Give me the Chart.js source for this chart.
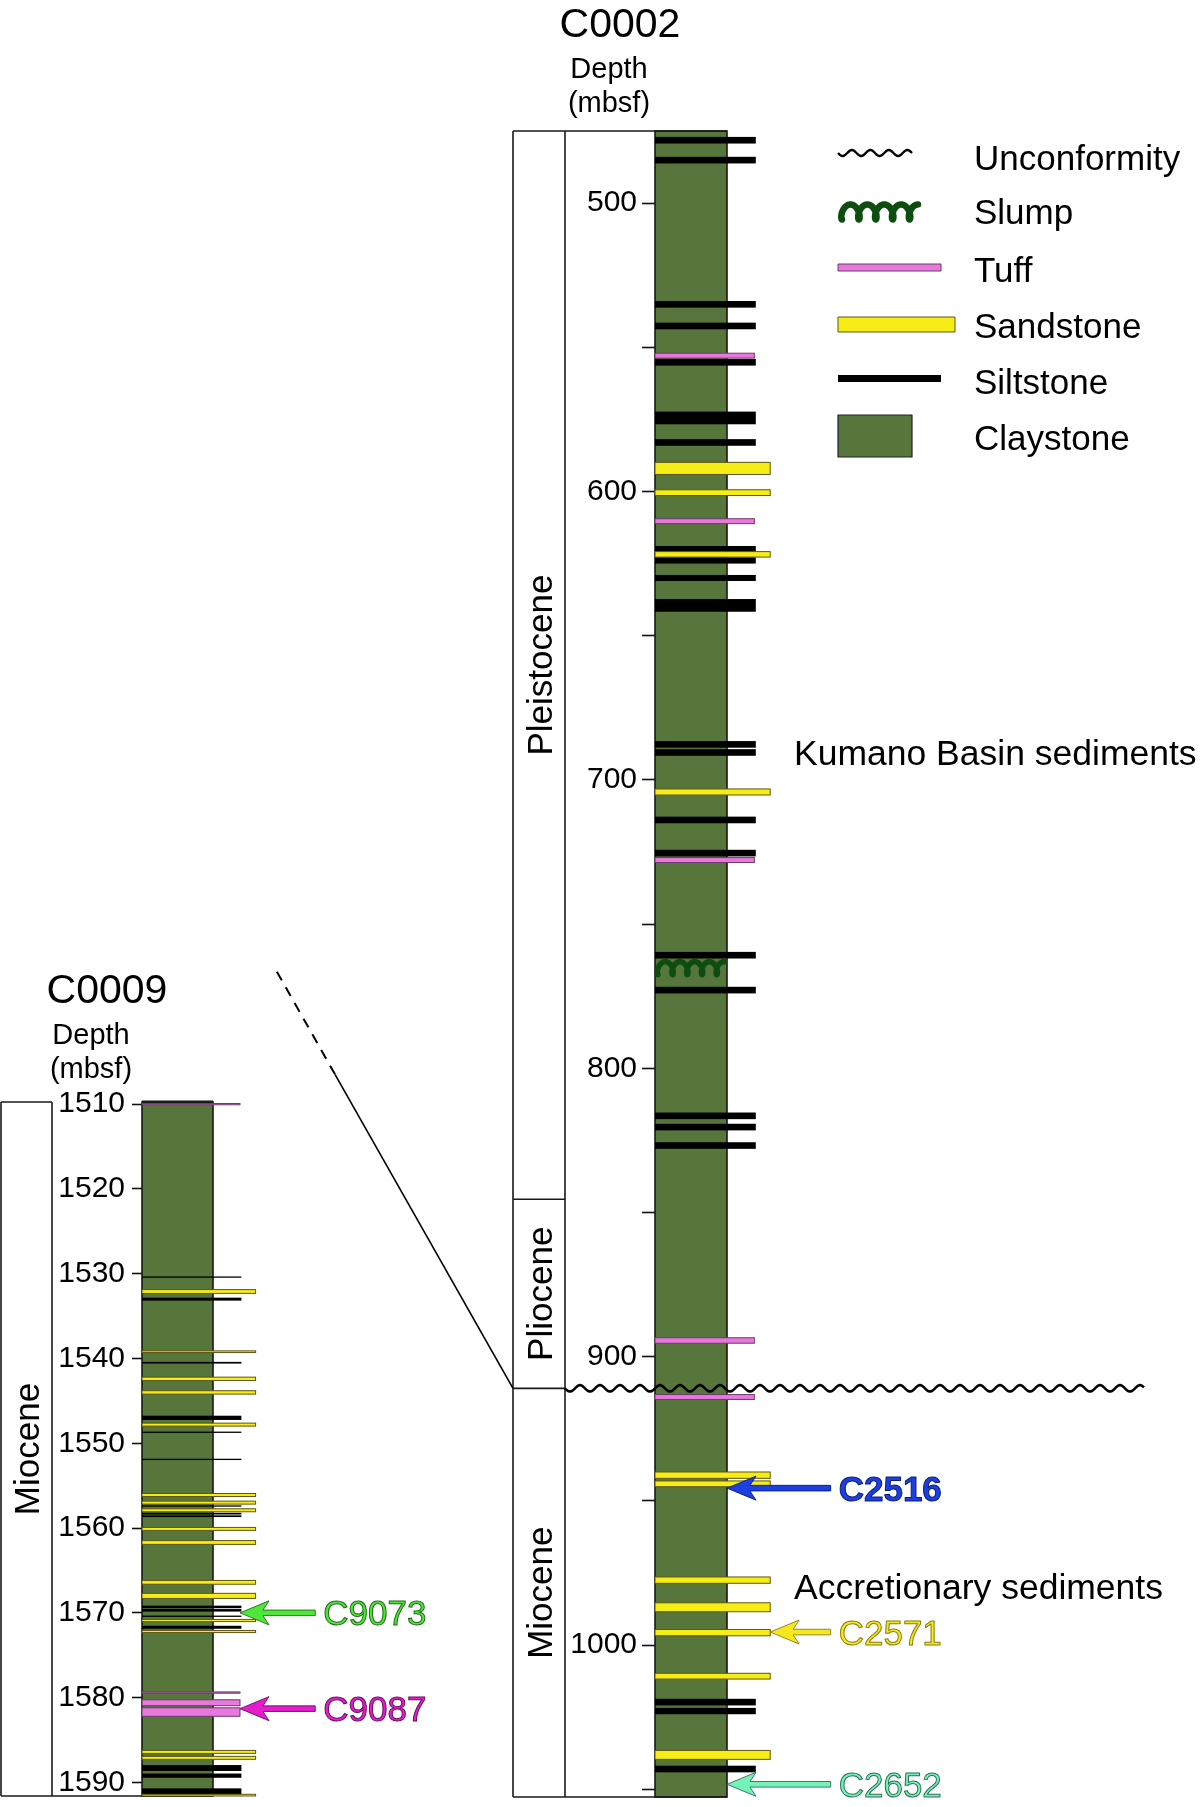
<!DOCTYPE html>
<html><head><meta charset="utf-8">
<script src="https://cdn.jsdelivr.net/npm/chart.js@4.4.1/dist/chart.umd.min.js"></script>
<style>
html,body{margin:0;padding:0;background:#fff;}
#wrap{position:relative;width:1200px;height:1807px;background:#fff;}
canvas{position:absolute;left:0;top:0;}
</style></head><body>
<div id="wrap"><canvas id="cA" width="1200" height="1807"></canvas><canvas id="cB" width="1200" height="1807"></canvas></div>
<script>
// ---------------- DATA: Site C0002 ----------------
const c0002Range = [475, 1052.7];
const c0002SiltDepth = [478.2, 485.1, 535.1, 542.6, 555.2, 574.5, 583.0, 619.9, 623.9, 630.0, 639.5, 687.7, 690.5, 713.9, 725.4, 760.8, 772.9, 816.5, 820.4, 826.8, 1019.8, 1022.9, 1043.0];
const c0002SiltThick = [2.3, 2.3, 2.3, 2.3, 2.3, 4.4, 2.3, 2.0, 2.2, 2.1, 4.4, 2.3, 2.3, 2.3, 2.3, 2.3, 2.3, 2.3, 2.3, 2.3, 2.3, 2.2, 2.3];
const c0002SandDepth = [592.0, 600.4, 621.8, 704.2, 941.1, 944.1, 977.5, 986.9, 995.7, 1010.8, 1038.1];
const c0002SandThick = [4.2, 2.0, 1.9, 2.1, 2.2, 2.0, 2.2, 3.1, 2.2, 2.0, 3.1];
const c0002TuffDepth = [552.9, 610.3, 727.8, 894.4, 914.0];
const c0002TuffThick = [1.7, 1.7, 1.7, 1.9, 1.7];
const c0002SlumpDepth = [765.3];
const c0002UnconformityDepth = [911.0];
const c0002EpochNames = ['Pleistocene', 'Pliocene', 'Miocene'];
const c0002EpochTop = [475, 845.4, 911.0];
const c0002EpochBottom = [845.4, 911.0, 1052.7];
const c0002SampleNames = ['C2516', 'C2571', 'C2652'];
const c0002SampleDepth = [945.6, 995.5, 1048.3];
const c0002UnitNames = ['Kumano Basin sediments', 'Accretionary sediments'];
const c0002UnitDepth = [690.6, 979.8];

// ---------------- DATA: Site C0009 ----------------
const c0009Range = [1509.75, 1591.6];
const c0009SiltDepth = [1530.4, 1533.0, 1540.5, 1547.0, 1548.7, 1551.9, 1557.4, 1558.3, 1558.6, 1569.3, 1569.7, 1570.4, 1571.7, 1588.3, 1589.2, 1591.1];
const c0009SiltThick = [0.15, 0.35, 0.2, 0.5, 0.12, 0.12, 0.12, 0.2, 0.2, 0.3, 0.3, 0.12, 0.35, 0.7, 0.5, 0.8];
const c0009SandDepth = [1532.1, 1539.2, 1542.4, 1544.0, 1547.8, 1556.1, 1557.0, 1557.9, 1560.1, 1561.7, 1566.4, 1568.0, 1570.9, 1572.2, 1586.4, 1587.1, 1591.5];
const c0009SandThick = [0.45, 0.2, 0.4, 0.4, 0.35, 0.35, 0.35, 0.35, 0.35, 0.45, 0.45, 0.6, 0.25, 0.25, 0.35, 0.35, 0.2];
const c0009TuffDepth = [1510.0, 1579.4, 1580.6, 1581.7];
const c0009TuffThick = [0.15, 0.15, 0.7, 1.0];
const c0009EpochNames = ['Miocene'];
const c0009EpochTop = [1509.75];
const c0009EpochBottom = [1591.6];
const c0009SampleNames = ['C9073', 'C9087'];
const c0009SampleDepth = [1570.0, 1581.3];

const legendLabels = ['Unconformity', 'Slump', 'Tuff', 'Sandstone', 'Siltstone', 'Claystone'];

// ---------------- STYLES ----------------
const FONT = '"Liberation Sans", Arial, Helvetica, sans-serif';
const CLAY = '#56763b';
const LITH = {
  silt: {fill: '#000000', stroke: null, extent: 1.4},
  sand: {fill: '#f6ec16', stroke: '#5e5512', extent: 1.6},
  tuff: {fill: '#e878de', stroke: '#6b3d6b', extent: 1.38}
};
const SAMPLE_STYLE = {
  C2516: {fill: '#1b3fe3', stroke: '#0b1d6e', bold: true, tip: 1.0},
  C2571: {fill: '#f5e81c', stroke: '#8a7c12', bold: false, tip: 1.6},
  C2652: {fill: '#74f2ba', stroke: '#2e6e52', bold: false, tip: 1.0},
  C9073: {fill: '#4ee63a', stroke: '#236a1a', bold: false, tip: 1.38},
  C9087: {fill: '#e51dcd', stroke: '#650c5a', bold: false, tip: 1.38}
};
const ARROW_TAIL = 2.44;

function beds(depths, thick, lith, label) {
  return {label: label, lith: lith, data: depths.map((d, i) => ({x: 0, y: d, t: thick[i]})),
          pointRadius: 0, pointHoverRadius: 0, showLine: false};
}

function wave(ctx, x0, x1, y, amp, wl) {
  ctx.beginPath();
  for (let x = x0; x <= x1; x += 1) {
    const yy = y + amp * Math.sin((x - x0) / wl * 2 * Math.PI);
    if (x === x0) ctx.moveTo(x, yy); else ctx.lineTo(x, yy);
  }
  ctx.stroke();
}
function slump(ctx, x0, x1, y, n, ay) {
  const T = n * 2 * Math.PI + Math.PI;
  const k = (x1 - x0) / T;
  const d = 1.5 * k;
  ctx.beginPath();
  for (let i = 0; i <= 400; i++) {
    const t = T * i / 400;
    const x = x0 + k * t - d * Math.sin(t);
    const yy = y + ay * Math.cos(t);
    if (i === 0) ctx.moveTo(x, yy); else ctx.lineTo(x, yy);
  }
  ctx.stroke();
}
function arrow(ctx, tipX, tailX, y, fill, stroke) {
  ctx.beginPath();
  ctx.moveTo(tipX, y);
  ctx.lineTo(tipX + 29, y - 12);
  ctx.lineTo(tipX + 23, y - 2.8);
  ctx.lineTo(tailX, y - 2.8);
  ctx.lineTo(tailX, y + 2.8);
  ctx.lineTo(tipX + 23, y + 2.8);
  ctx.lineTo(tipX + 29, y + 12);
  ctx.closePath();
  ctx.fillStyle = fill; ctx.fill();
  ctx.lineWidth = 0.9; ctx.strokeStyle = stroke; ctx.stroke();
}
function text(ctx, s, x, y, size, align, opts) {
  opts = opts || {};
  ctx.font = (opts.bold ? 'bold ' : '') + size + 'px ' + FONT;
  ctx.textAlign = align; ctx.textBaseline = 'alphabetic';
  ctx.fillStyle = opts.fill || '#000';
  ctx.fillText(s, x, y);
  if (opts.stroke) { ctx.lineWidth = 1; ctx.strokeStyle = opts.stroke; ctx.strokeText(s, x, y); }
}

function columnPlugin(cfg) {
  return {
    id: 'column' + cfg.name,
    beforeDatasetsDraw(chart) {
      const ctx = chart.ctx, ca = chart.chartArea, ys = chart.scales.y;
      const e0 = ca.left - cfg.epochOffset, e1 = ca.left - 90;
      ctx.save();
      ctx.fillStyle = CLAY;
      ctx.fillRect(ca.left, ca.top, ca.right - ca.left, ca.bottom - ca.top);
      ctx.strokeStyle = '#1a1a1a'; ctx.lineWidth = 1.6;
      ctx.strokeRect(ca.left, ca.top, ca.right - ca.left, ca.bottom - ca.top);
      ctx.beginPath();
      ctx.moveTo(e0, ca.top); ctx.lineTo(cfg.topFull ? ca.right : e1, ca.top);
      ctx.moveTo(e0, ca.bottom); ctx.lineTo(ca.right, ca.bottom);
      ctx.moveTo(e0, ca.top); ctx.lineTo(e0, ca.bottom);
      ctx.moveTo(e1, ca.top); ctx.lineTo(e1, ca.bottom);
      ctx.stroke();
      if (!cfg.topFull) { ctx.lineWidth = 3; ctx.beginPath(); ctx.moveTo(ca.left, ca.top); ctx.lineTo(ca.right, ca.top); ctx.stroke(); ctx.lineWidth = 1.6; }
      cfg.epochNames.forEach((nm, i) => {
        const yt = ys.getPixelForValue(cfg.epochTop[i]);
        const yb = ys.getPixelForValue(cfg.epochBottom[i]);
        if (i > 0) { ctx.beginPath(); ctx.moveTo(e0, yt); ctx.lineTo(e1, yt); ctx.stroke(); }
        ctx.save();
        ctx.translate((e0 + e1) / 2 + 12.5, (yt + yb) / 2);
        ctx.rotate(-Math.PI / 2);
        text(ctx, nm, 0, 0, 35, 'center');
        ctx.restore();
      });
      ctx.restore();
    },
    afterDatasetsDraw(chart) {
      const ctx = chart.ctx, ca = chart.chartArea, ys = chart.scales.y, xs = chart.scales.x;
      ctx.save();
      chart.data.datasets.forEach(ds => {
        const st = LITH[ds.lith];
        const x0 = xs.getPixelForValue(0), x1 = xs.getPixelForValue(st.extent);
        ds.data.forEach(p => {
          let y0 = ys.getPixelForValue(p.y - p.t / 2), y1 = ys.getPixelForValue(p.y + p.t / 2);
          let h = Math.max(y1 - y0, 1.3);
          if (y1 - y0 < 1.3) y0 = (y0 + y1) / 2 - 0.65;
          ctx.fillStyle = st.fill;
          ctx.fillRect(x0, y0, x1 - x0, h);
          if (st.stroke) { ctx.strokeStyle = st.stroke; ctx.lineWidth = 1; ctx.strokeRect(x0, y0, x1 - x0, h); }
        });
      });
      (cfg.slump || []).forEach(d => {
        ctx.strokeStyle = '#0d4d10'; ctx.lineWidth = 5.5; ctx.lineCap = 'round'; ctx.lineJoin = 'round';
        slump(ctx, xs.getPixelForValue(0.04), xs.getPixelForValue(0.96), ys.getPixelForValue(d), 4, 6.5);
      });
      (cfg.unconf || []).forEach(d => {
        ctx.strokeStyle = '#000'; ctx.lineWidth = 2.6; ctx.lineCap = 'butt';
        wave(ctx, xs.getPixelForValue(-1.25), xs.getPixelForValue(6.8), ys.getPixelForValue(d), 3.2, 20);
      });
      cfg.sampleNames.forEach((nm, i) => {
        const s = SAMPLE_STYLE[nm];
        const y = ys.getPixelForValue(cfg.sampleDepth[i]);
        const tailX = xs.getPixelForValue(ARROW_TAIL);
        arrow(ctx, xs.getPixelForValue(s.tip), tailX, y, s.fill, s.stroke);
        text(ctx, nm, tailX + 8, y + 12.5, 35, 'left', {fill: s.fill, stroke: s.stroke, bold: s.bold});
      });
      (cfg.unitNames || []).forEach((nm, i) => {
        text(ctx, nm, ca.right + 67, ys.getPixelForValue(cfg.unitDepth[i]) + 12.5, 35.5, 'left');
      });
      text(ctx, cfg.name, cfg.titleX, cfg.titleY, 41, 'center');
      text(ctx, 'Depth', cfg.subX, cfg.titleY + 41, 29, 'center');
      text(ctx, '(mbsf)', cfg.subX, cfg.titleY + 75, 29, 'center');
      if (cfg.extra) cfg.extra(chart, ctx);
      ctx.restore();
    }
  };
}

function drawLegendAndConnector(chart, ctx) {
  const ca = chart.chartArea, ys = chart.scales.y;
  const ex = ca.left - 142, ey = ys.getPixelForValue(c0002UnconformityDepth[0]);
  const mx = ex - 178, my = ey - 314;
  ctx.strokeStyle = '#000'; ctx.lineWidth = 1.6; ctx.setLineDash([]);
  ctx.beginPath(); ctx.moveTo(ex, ey); ctx.lineTo(mx, my); ctx.stroke();
  ctx.lineWidth = 2; ctx.setLineDash([10, 8]);
  ctx.beginPath(); ctx.moveTo(mx, my); ctx.lineTo(mx - 60, my - 106); ctx.stroke();
  ctx.setLineDash([]);
  const lx = 838, tx = 974;
  const base = [170, 224, 282, 338, 394, 450];
  ctx.strokeStyle = '#000'; ctx.lineWidth = 2.4;
  wave(ctx, lx, 912, 153, 3, 18.5);
  ctx.strokeStyle = '#0d4d10'; ctx.lineWidth = 6.5; ctx.lineCap = 'round'; ctx.lineJoin = 'round';
  slump(ctx, lx + 4, 918, 212, 4, 7.5);
  ctx.lineCap = 'butt';
  ctx.fillStyle = LITH.tuff.fill; ctx.fillRect(lx, 264, 103, 7);
  ctx.strokeStyle = LITH.tuff.stroke; ctx.lineWidth = 1; ctx.strokeRect(lx, 264, 103, 7);
  ctx.fillStyle = LITH.sand.fill; ctx.fillRect(lx, 317, 117, 15);
  ctx.strokeStyle = LITH.sand.stroke; ctx.strokeRect(lx, 317, 117, 15);
  ctx.fillStyle = '#000'; ctx.fillRect(lx, 375, 103, 7);
  ctx.fillStyle = CLAY; ctx.fillRect(lx, 415, 74, 42);
  ctx.strokeStyle = '#222'; ctx.lineWidth = 1.2; ctx.strokeRect(lx, 415, 74, 42);
  legendLabels.forEach((l, i) => text(ctx, l, tx, base[i], 35, 'left'));
}

function makeChart(canvas, cfg) {
  return new Chart(canvas, {
    type: 'scatter',
    data: {datasets: [
      beds(cfg.silt, cfg.siltT, 'silt', 'Siltstone'),
      beds(cfg.sand, cfg.sandT, 'sand', 'Sandstone'),
      beds(cfg.tuff, cfg.tuffT, 'tuff', 'Tuff')
    ]},
    options: {
      responsive: false, animation: false, devicePixelRatio: 1,
      events: [],
      layout: {padding: cfg.padding},
      plugins: {legend: {display: false}, tooltip: {enabled: false}},
      scales: {
        x: {type: 'linear', display: false, min: 0, max: 1},
        y: {
          type: 'linear', reverse: true, min: cfg.range[0], max: cfg.range[1],
          afterFit(s) { s.width = 90; s.paddingTop = 0; s.paddingBottom = 0; },
          border: {display: false},
          grid: {drawOnChartArea: false, drawTicks: true, tickLength: cfg.tickLen, tickWidth: 1.6, tickColor: '#111', color: '#111'},
          ticks: {stepSize: cfg.step, includeBounds: false, autoSkip: false, maxRotation: 0, padding: cfg.tickPad,
                  color: '#000', font: {family: FONT, size: 30},
                  callback: v => (v % cfg.labelEvery === 0 ? String(v) : '')}
        }
      }
    },
    plugins: [columnPlugin(cfg)]
  });
}

makeChart(document.getElementById('cA'), {
  name: 'C0002', range: c0002Range,
  silt: c0002SiltDepth, siltT: c0002SiltThick, sand: c0002SandDepth, sandT: c0002SandThick,
  tuff: c0002TuffDepth, tuffT: c0002TuffThick, slump: c0002SlumpDepth, unconf: c0002UnconformityDepth,
  epochNames: c0002EpochNames, epochTop: c0002EpochTop, epochBottom: c0002EpochBottom,
  sampleNames: c0002SampleNames, sampleDepth: c0002SampleDepth,
  unitNames: c0002UnitNames, unitDepth: c0002UnitDepth,
  padding: {left: 565, right: 473, top: 131, bottom: 10},
  tickLen: 13, tickPad: 5, step: 50, labelEvery: 100, epochOffset: 142, topFull: true,
  titleX: 620, subX: 609, titleY: 37, extra: drawLegendAndConnector
});
makeChart(document.getElementById('cB'), {
  name: 'C0009', range: c0009Range,
  silt: c0009SiltDepth, siltT: c0009SiltThick, sand: c0009SandDepth, sandT: c0009SandThick,
  tuff: c0009TuffDepth, tuffT: c0009TuffThick,
  epochNames: c0009EpochNames, epochTop: c0009EpochTop, epochBottom: c0009EpochBottom,
  sampleNames: c0009SampleNames, sampleDepth: c0009SampleDepth,
  padding: {left: 52, right: 987, top: 1102, bottom: 11},
  tickLen: 10, tickPad: 7, step: 10, labelEvery: 10, epochOffset: 141, topFull: false,
  titleX: 107, subX: 91, titleY: 1003
});
</script>
</body></html>
